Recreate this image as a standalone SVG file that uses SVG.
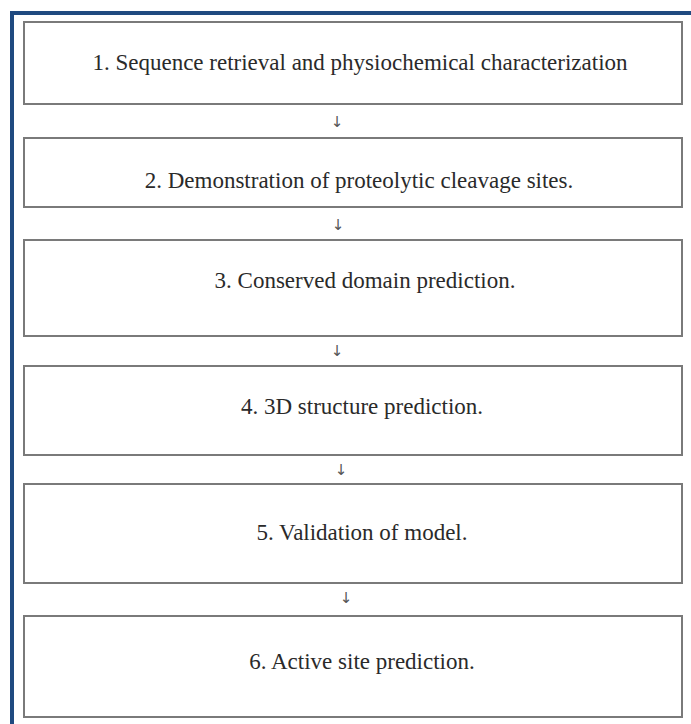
<svg xmlns="http://www.w3.org/2000/svg" width="691" height="724" viewBox="0 0 691 724">
<style>
.box{fill:#fff;stroke:#7a7a7a;stroke-width:2}
.lbl{font-family:"Liberation Serif","Times New Roman",serif;font-size:23px;fill:#2a2a2a;text-anchor:middle}
.arr{font-family:"DejaVu Sans",sans-serif;font-size:15px;fill:#555;text-anchor:middle}
</style>
<rect x="0" y="0" width="691" height="724" fill="#fff"/>
<rect x="12" y="13" width="700" height="730" fill="none" stroke="#1f4a80" stroke-width="4"/>
<g id="n1"><rect class="box" x="24" y="22" width="658" height="82"/><text class="lbl" x="360" y="70">1. Sequence retrieval and physiochemical characterization</text></g>
<g id="n2"><rect class="box" x="24" y="138" width="658" height="69"/><text class="lbl" x="359" y="188">2. Demonstration of proteolytic cleavage sites.</text></g>
<g id="n3"><rect class="box" x="24" y="240" width="658" height="96"/><text class="lbl" x="365" y="288">3. Conserved domain prediction.</text></g>
<g id="n4"><rect class="box" x="24" y="366" width="658" height="89"/><text class="lbl" x="362" y="414">4. 3D structure prediction.</text></g>
<g id="n5"><rect class="box" x="24" y="484" width="658" height="99"/><text class="lbl" x="362" y="540">5. Validation of model.</text></g>
<g id="n6"><rect class="box" x="24" y="616" width="658" height="101"/><text class="lbl" x="362" y="669">6. Active site prediction.</text></g>
<g id="connectors">
<text class="arr" x="337" y="127">↓</text>
<text class="arr" x="338" y="230">↓</text>
<text class="arr" x="337" y="356">↓</text>
<text class="arr" x="341" y="475">↓</text>
<text class="arr" x="346" y="603">↓</text>
</g>
</svg>
